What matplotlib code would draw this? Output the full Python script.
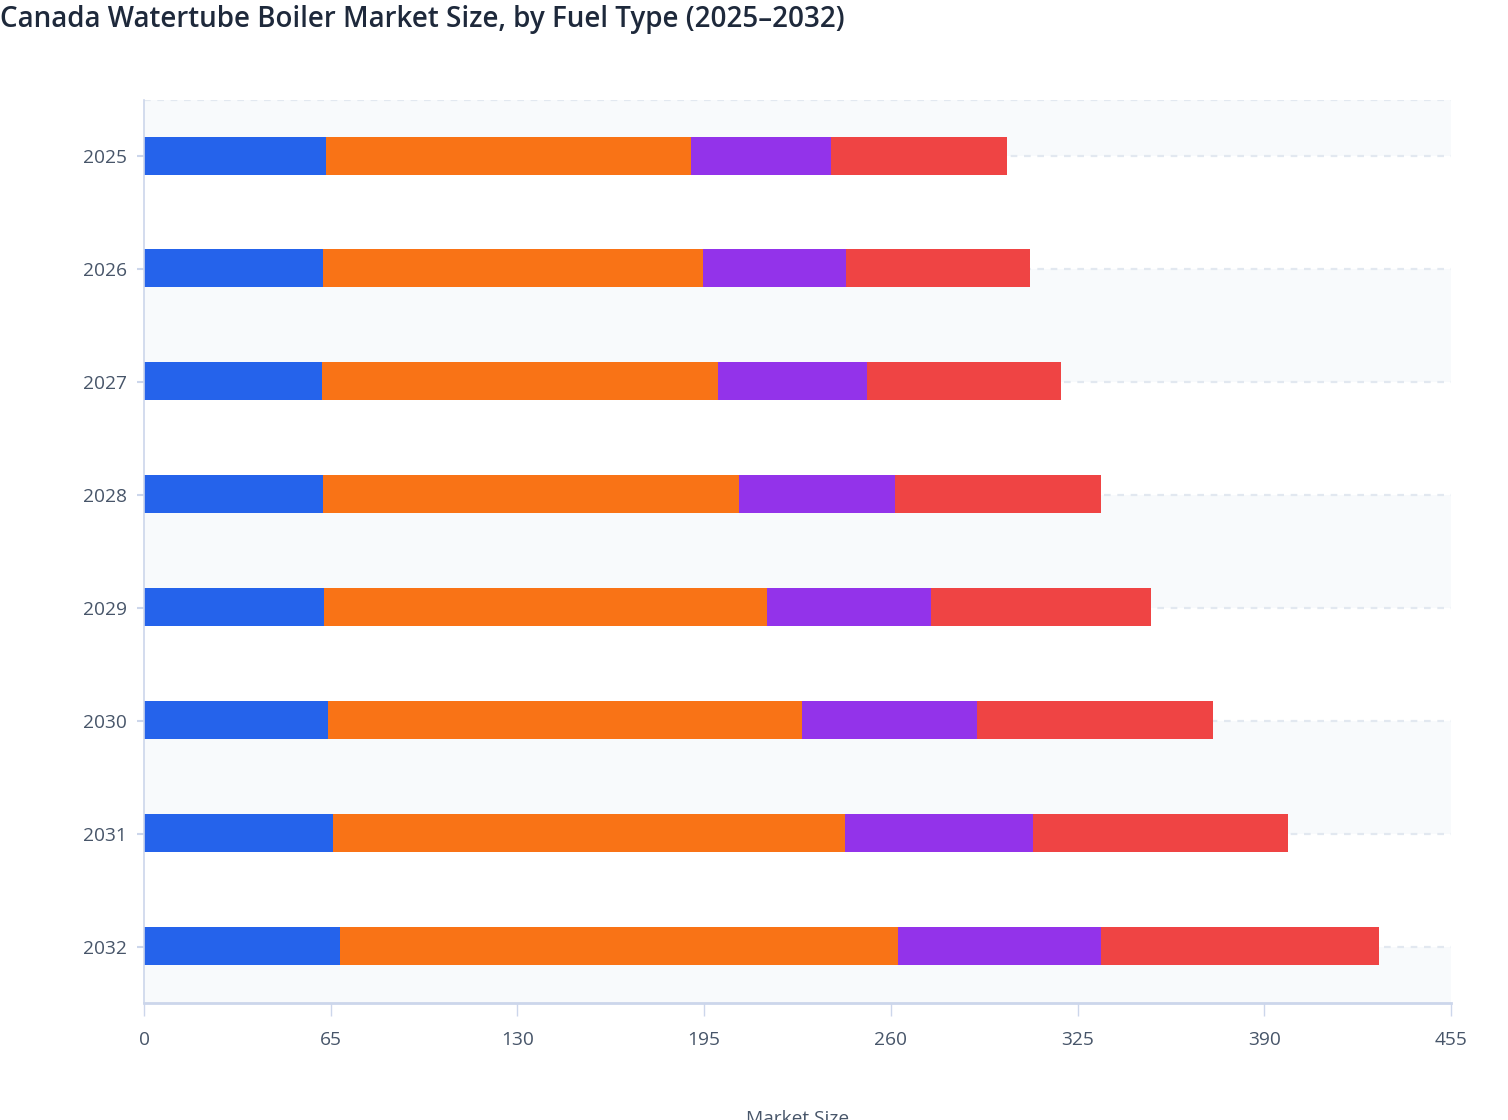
import matplotlib
matplotlib.use("Agg")
import matplotlib.pyplot as plt
import numpy as np

plt.rcParams['font.family'] = ['Open Sans', 'Noto Sans', 'DejaVu Sans']

years = ["2025", "2026", "2027", "2028", "2029", "2030", "2031", "2032"]
fuel_types = ["Natural Gas", "Oil", "Biomass", "Others"]
natural_gas = [63.4, 62.3, 62.0, 62.3, 62.7, 64.1, 65.8, 68.2]
oil = [127.0, 132.3, 137.8, 144.8, 154.2, 165.0, 178.2, 194.3]
biomass = [48.8, 49.8, 51.9, 54.3, 57.1, 60.9, 65.5, 70.7]
others = [61.2, 64.0, 67.5, 71.8, 76.6, 82.2, 88.8, 96.7]
x_ticks = [0, 65, 130, 195, 260, 325, 390, 455]

colors = ['#2563eb', '#f97316', '#9333ea', '#ef4444']
axis_col = '#ccd6eb'
text_col = '#475569'


def main():
    fig = plt.figure(figsize=(15.08, 11.2), dpi=100)
    ax = fig.add_axes([0.0955, 0.1045, 0.8667, 0.8062])

    n = len(years)
    y = np.arange(n)

    # alternating bands + dashed grid at category centres
    edges = [-0.5] + list(y) + [n - 0.5]
    for k in range(0, len(edges) - 1, 2):
        ax.axhspan(edges[k], edges[k + 1], color='#f8fafc', lw=0, zorder=0)
    for e in edges[:-1]:
        ax.axhline(e, color='#e2e8f0', lw=1.6, ls=(0, (3, 3)), zorder=1)

    series = [natural_gas, oil, biomass, others]
    left = np.zeros(n)
    for vals, name, c in zip(series, fuel_types, colors):
        ax.barh(y - 0.008, vals, left=left, height=0.336, color=c, label=name, zorder=2)
        left += np.array(vals)

    ax.set_xlim(0, 455)
    ax.set_ylim(n - 0.5, -0.5)
    ax.set_xticks(x_ticks)
    ax.set_yticks(y)
    ax.set_yticklabels(years)

    for s in ['top', 'right']:
        ax.spines[s].set_visible(False)
    ax.spines['left'].set_color(axis_col)
    ax.spines['left'].set_linewidth(1.2)
    ax.spines['bottom'].set_color(axis_col)
    ax.spines['bottom'].set_linewidth(2)

    ax.tick_params(axis='x', length=9, width=1, color=axis_col, pad=11,
                   labelsize=13.8, labelcolor=text_col)
    ax.tick_params(axis='y', length=5, width=1.5, color=axis_col, pad=7,
                   labelsize=13.8, labelcolor=text_col)

    ax.set_xlabel("Market Size", fontsize=13.8, color=text_col, labelpad=44)

    fig.text(0.0, 1 - 19 / 1120, "Canada Watertube Boiler Market Size, by Fuel Type (2025\u20132032)",
             fontsize=20, fontweight='semibold', color='#1e293b', ha='left', va='center')

    fig.savefig('out.png', dpi=100)


if __name__ == '__main__':
    main()
